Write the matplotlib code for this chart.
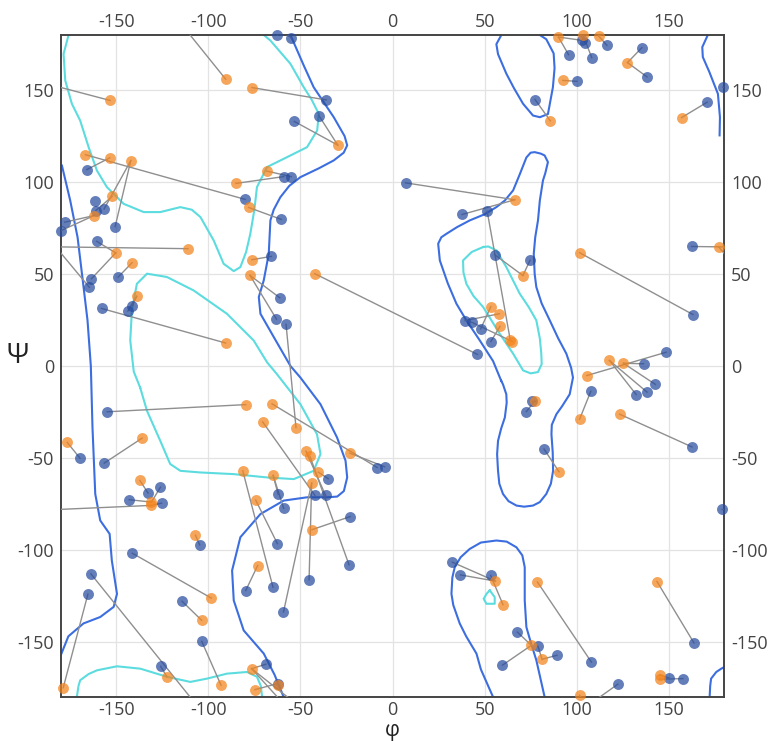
import numpy as np
import matplotlib.pyplot as plt

plt.rcParams['font.family'] = ['Open Sans', 'DejaVu Sans']
plt.rcParams['axes.unicode_minus'] = False

# ----- residue angles (phi, psi) -----
blue_phi = [-62.5, -55, -36, -40, -53.3, -59, -55, -80, -60.3, -65.8, -61.2, -63, -57.8,
            -166, -161.7, -161.1, -156.6, -178, -180, -150.6, -160.6, -163.5, -164.6, -149,
            -141.3, -143.7, -158,
            95.6, 102.8, 104.6, 108.2, 116.4, 135.4, 138.2, 100.1, 77.4, 170.9, 179.4,
            7.1, 37.8, 51.4, 55.5, 74.7, 162.4, 163.1, 39.4, 43, 47.9, 53.4, 46.1, 148.6, 136.3,
            142.7, 132.3, 138.2, 107.7, 75.8, 72.7, 82.3, 162.6, -8.3, -4.3, 179,
            32.5, 36.9, 53.3, 67.8, 79, 89.3, 59.7, 108, 122.4, 150.1, 157.7, 163.7,
            -154.9, -169.7, -156.5, -132.7, -126, -143, -125.4, -141.3, -104.7, -114.3,
            -163.8, -165.4, -103.6, -125.9, -68.8, -62.4, -62.1, -59.1, -62.5, -64.9,
            -79.7, -59.2, -45.3, -42.1, -36.3, -34.9, -23, -23.6]
blue_psi = [180, 178.4, 144.7, 136.2, 133, 103, 103, 90.6, 79.7, 59.6, 37.1, 25.5, 22.6,
            106.8, 90, 84.5, 85.4, 78.2, 73.6, 75.8, 67.8, 47.4, 42.8, 48.3,
            32.8, 29.9, 31.3,
            169.3, 177.1, 175.8, 167.7, 174.4, 173.1, 157.2, 154.8, 144.9, 143.5, 151.6,
            99.6, 82.4, 84.2, 60.5, 57.5, 65, 28, 24.7, 23.8, 20.2, 13.3, 6.3, 7.5, 1.2,
            -10, -15.5, -14.2, -13.7, -19, -24.8, -45.2, -44, -55.2, -54.8, -78,
            -106.7, -113.6, -113.9, -144.7, -152.4, -157.3, -162.7, -161, -173, -169.6, -170, -150.6,
            -24.9, -50.1, -52.8, -69.1, -65.9, -72.7, -74.6, -101.8, -97.3, -127.9,
            -113, -124.1, -149.7, -163.3, -162.2, -172.7, -69.8, -77.4, -96.6, -120.3,
            -122.1, -133.8, -116.3, -70.4, -70.4, -61.3, -81.9, -108.1]

orange_phi = [-90.6, -76.3, -153.3, -29.7, -166.7, -153.5, -142.1, -68.3, -85, -152.1,
              -162.1, -78.1, -111.1, -150.3, -141.4, -76.4, -77.4, -42.2, -138.9, -90.6,
              90.1, 103.4, 111.9, 127.6, 92.5, 85.7, 157, 66.4, 101.6, 177.2, 70.8,
              53.4, 58, 58.4, 63.9, 65.1, 117.8, 125.4,
              105.5, 101.6, 123.3, 77.2, 90.4, 143.6, 78.7, 55.9, 60, 75.4, 81.2, 145, 145, 101.6,
              -79.7, -65.4, -70.5, -52.4, -176.6, -135.9, -137.2, -130.9, -130.9, -81.3,
              -64.8, -47, -44.8, -40.3, -43.9, -43.7, -23.1, -74.3, -107, -73.2, -98.4,
              -103.6, -93.1, -122.5, -178.8, -76.5, -74.7, -62.3]
orange_psi = [156, 151.4, 144.4, 120.1, 114.9, 113.2, 111.7, 106, 99.3, 92.3,
              81.8, 86.2, 63.8, 61.5, 56.2, 57.8, 49.3, 50.2, 37.9, 12.5,
              178.9, 180, 179.5, 165, 155.3, 133.3, 135.1, 90.4, 61.6, 64.7, 49.2,
              32.3, 28.4, 21.6, 14.4, 13.3, 3, 1.5,
              -5.2, -28.9, -26.2, -19, -57.5, -117.2, -117.5, -117, -129.8, -151.9, -159.5,
              -168, -170.3, -179,
              -21, -20.6, -30.4, -33.5, -41.6, -39.2, -62.2, -74, -75.8, -57,
              -59.5, -46.3, -49.2, -57.7, -63.7, -89, -47.4, -72.9, -92, -108.5, -126.2,
              -138.3, -173.6, -169, -175, -164.6, -176, -173.6]

# (blue index, orange index) pairs joined by a grey line
links = [(85, 0), (2, 1), (4, 3), (3, 3), (7, 4), (13, 5), (19, 6), (16, 6), (15, 9),
         (17, 10), (18, 10), (5, 8), (6, 7), (8, 11), (43, 12), (20, 13), (21, 13),
         (22, 29), (23, 14), (26, 19), (24, 18), (25, 18), (9, 15), (10, 16), (11, 16),
         (12, 55), (49, 17), (37, 2), (36, 26),
         (27, 20), (28, 20), (30, 21), (31, 22), (29, 51), (32, 23), (33, 23), (34, 24),
         (35, 25), (38, 27), (39, 27), (40, 34), (41, 30), (42, 30), (44, 28),
         (47, 31), (46, 35), (45, 32), (48, 33), (50, 38), (51, 37), (53, 36), (54, 36),
         (52, 37), (55, 39), (59, 40), (56, 41), (57, 41), (58, 42), (63, 45), (64, 45),
         (65, 46), (70, 44), (74, 43), (66, 47), (69, 47), (67, 48), (68, 48), (72, 49),
         (73, 50), (71, 22),
         (75, 52), (61, 68), (60, 53), (98, 54), (76, 56), (77, 57), (78, 58), (79, 59),
         (80, 59), (81, 60), (62, 60), (94, 61), (91, 62), (92, 62), (93, 69), (95, 71),
         (96, 66), (97, 66), (101, 67), (99, 63), (102, 64), (100, 65), (83, 70),
         (82, 72), (84, 73), (87, 74), (88, 75), (86, 76), (89, 77), (0, 77), (1, 77),
         (90, 78), (90, 79)]

# ----- density contours (phi, psi) -----
dark_paths = [
    [(-179.5, 109), (-175, 90), (-171, 70), (-168, 45), (-165.6, 24.8), (-163.8, 0),
     (-162.9, -33.5), (-161.4, -69.6), (-158.7, -84), (-153.6, -91.3), (-152.4, -105.8),
     (-149.6, -123.9), (-151.4, -131), (-158.7, -136.5), (-167.8, -140), (-176, -147),
     (-180, -157)],
    [(-55.4, 180), (-48, 163), (-42.8, 151.6), (-31.9, 135.3), (-26, 125), (-24.6, 120),
     (-26.5, 116), (-31.9, 111.8), (-40, 107.5), (-50, 102.7), (-56, 98), (-60.9, 91.8),
     (-64.5, 85), (-66.3, 79.2), (-67.2, 61), (-69.9, 46.6), (-72.6, 37.5), (-71.7, 28.4),
     (-64.5, 15.8), (-55.4, 0), (-50, -6.3), (-39.1, -20.8), (-30.1, -38.9), (-25.5, -51.5),
     (-24.6, -60.6), (-26.4, -68), (-30, -71), (-35.5, -71.4), (-46.4, -71.4),
     (-59.1, -73.2), (-71.7, -80.5), (-82.6, -93.1), (-87.1, -111.2), (-86.2, -127.5),
     (-80.8, -143.8), (-69.9, -156.4), (-64, -168), (-59.1, -180)],
    [(59.1, 180), (56.4, 175), (57.3, 169.6), (61.8, 159), (66, 151), (70.9, 142.6),
     (76.3, 136.2), (80, 135.3), (84.4, 137), (87.1, 151.6), (88, 162), (87.5, 170),
     (83.5, 177.7), (80, 180)],
    [(54.6, -180), (48, -165), (45.6, -156.4), (40, -147), (36.5, -140), (33, -130),
     (32, -123.9), (32.5, -115), (33.8, -109.4), (37, -104), (41.9, -99.5), (48, -96),
     (56.4, -94.9), (62, -95.5), (67.3, -98.6), (70.5, -103), (71.8, -109.4),
     (71.8, -127.5), (72.7, -142), (75, -150), (78.1, -160), (82.6, -180)],
    [(59, -8), (54.6, 2.7), (47.4, 13.9), (40, 25), (34.7, 33.9), (30, 45), (25.7, 57.4),
     (24.8, 66.5), (26.5, 70), (29.3, 71.9), (35, 75.5), (42, 79.2), (50, 82.5),
     (56.4, 86.4), (61, 90), (65.5, 95.5), (69, 104), (72.7, 113.4), (75, 116),
     (77.2, 116.3), (80.5, 115.5), (82.6, 114.5), (84.4, 110.9), (83, 105), (81.7, 100.9),
     (80, 90), (79, 79.2), (77.5, 70), (76.7, 61), (77.2, 50), (78.1, 42.9), (81, 34),
     (85.4, 24.8), (90, 15), (94.4, 6.7), (97, -1), (98, -6.3), (96.2, -15.4), (92, -22),
     (89, -26.2), (86.5, -32), (86.3, -37.1), (87, -47), (87.2, -57), (86, -64),
     (83.5, -69.6), (80, -74), (76.3, -75.9), (71.5, -76.5), (67.3, -75.9), (63, -73.5),
     (60, -69.6), (58, -64), (57.3, -57), (56.8, -48), (57.3, -40.7), (59, -34), (61, -28),
     (62, -20), (61.8, -15.4), (60, -10), (59, -8)],
    [(177.6, 125.4), (177.8, 135.3), (176.7, 148), (172, 160), (168.5, 168),
     (168.2, 173.4), (171.2, 180)],
    [(172.2, -180), (172.5, -174), (173, -170), (175.8, -166.4), (178.5, -164.6),
     (180, -163.8)],
]
cyan_paths = [
    [(-175.9, 180), (-178.6, 169.7), (-177.7, 155.3), (-174.1, 142.6), (-169.6, 133.5),
     (-165, 119), (-160.5, 106.3), (-155.1, 97.3), (-146, 88.2), (-135.1, 83.7),
     (-126.1, 83.7), (-115.2, 86.4), (-109, 85), (-104.3, 81), (-97.1, 68.3),
     (-91.7, 55.6), (-86.2, 51.6), (-82.6, 53.8), (-79.5, 62), (-77.2, 71.9), (-75, 85),
     (-73.6, 97.3), (-68.1, 108.2), (-57.2, 113.6), (-46.4, 119), (-40.9, 128.1),
     (-40, 137.1), (-44, 145), (-48.2, 151.6), (-55.4, 164.3), (-62, 172), (-66.3, 177),
     (-69.9, 180)],
    [(-171.4, -180), (-170.5, -174), (-169.6, -170.9), (-165, -167.5), (-160.5, -165.5),
     (-149.6, -163.3), (-136.9, -164.6), (-122.5, -169), (-109.8, -171.8), (-100.7, -170),
     (-89.9, -167.3), (-79, -166.4), (-73.6, -169), (-71.5, -174), (-70.8, -180)],
    [(-137, -11.8), (-140.5, -3), (-142.4, 13.9), (-141.5, 30.3), (-138.8, 44.7),
     (-133.3, 50.2), (-122.5, 48.4), (-108, 41.1), (-89.9, 28.4), (-75.4, 13.9),
     (-68.1, 2), (-62.7, -4.5), (-50, -20.8), (-41, -37.1), (-39.1, -47.9), (-42.8, -57),
     (-53.6, -61.5), (-68.1, -60.6), (-86.2, -58.8), (-104.3, -57.9), (-115.2, -57),
     (-120.7, -53.3), (-126.1, -40.7), (-133.3, -24.4), (-137, -11.8)],
    [(49.2, 64.7), (43, 62), (38.3, 57.4), (38.5, 51), (40.1, 44.7), (44, 38),
     (49.2, 32.1), (58.2, 17.6), (65.5, 6.7), (70.9, -2.4), (75, -4), (79, -3.3),
     (81, 1), (80.8, 6.7), (80, 15), (78.1, 24.8), (74, 32), (69.1, 39.3), (61.8, 53.8),
     (56.4, 62.9), (52, 65), (49.2, 64.7)],
    [(52.8, -122), (55.5, -125.7), (55.5, -129.3), (51, -129.3), (49.5, -126.6),
     (51, -124), (52.8, -122)],
]

ticks = [-150, -100, -50, 0, 50, 100, 150]

fig = plt.figure(figsize=(7.69, 7.41), dpi=100)
ax = fig.add_axes([61 / 769, 44 / 741, 663 / 769, 662 / 741])

for path in dark_paths:
    xs, ys = zip(*path)
    ax.plot(xs, ys, color='#3c6ee0', lw=1.5, zorder=2)
for path in cyan_paths:
    xs, ys = zip(*path)
    ax.plot(xs, ys, color='#5cdcdf', lw=1.5, zorder=2)

# links, split where the shortest path wraps around +-180
for bi, oi in links:
    p = np.array([blue_phi[bi], blue_psi[bi]])
    q = np.array([orange_phi[oi], orange_psi[oi]])
    d = (q - p + 180) % 360 - 180
    ax.plot([p[0], p[0] + d[0]], [p[1], p[1] + d[1]], color='#8f8f8f', lw=1.0, zorder=3)
    if not np.allclose(p + d, q):
        ax.plot([q[0] - d[0], q[0]], [q[1] - d[1], q[1]], color='#8f8f8f', lw=1.0, zorder=3)

ax.scatter(blue_phi, blue_psi, s=62, color='#274c9e', alpha=0.72, linewidths=0,
           zorder=4, clip_on=False)
ax.scatter(orange_phi, orange_psi, s=62, color='#f3841c', alpha=0.72, linewidths=0,
           zorder=5, clip_on=False)

ax.set_xlim(-180, 180)
ax.set_ylim(-180, 180)
ax.set_xticks(ticks)
ax.set_yticks(ticks)
ax.grid(True, color='#e3e3e3', lw=0.9)
ax.set_axisbelow(True)
for s in ax.spines.values():
    s.set_color('#444444')
    s.set_linewidth(1.4)
ax.tick_params(axis='x', length=0, pad=3, labelsize=13, labelcolor='#444444',
               top=True, labeltop=True)
ax.tick_params(axis='y', length=0, pad=5, labelsize=13, labelcolor='#444444',
               right=True, labelright=True)

ax.text(-0.065, 0.515, 'Ψ', transform=ax.transAxes, fontsize=20, color='#222222',
        ha='center', va='center')
ax.text(0.5, -0.050, 'φ', transform=ax.transAxes, fontsize=15, color='#222222',
        ha='center', va='center')

fig.savefig('out.png', dpi=100)
